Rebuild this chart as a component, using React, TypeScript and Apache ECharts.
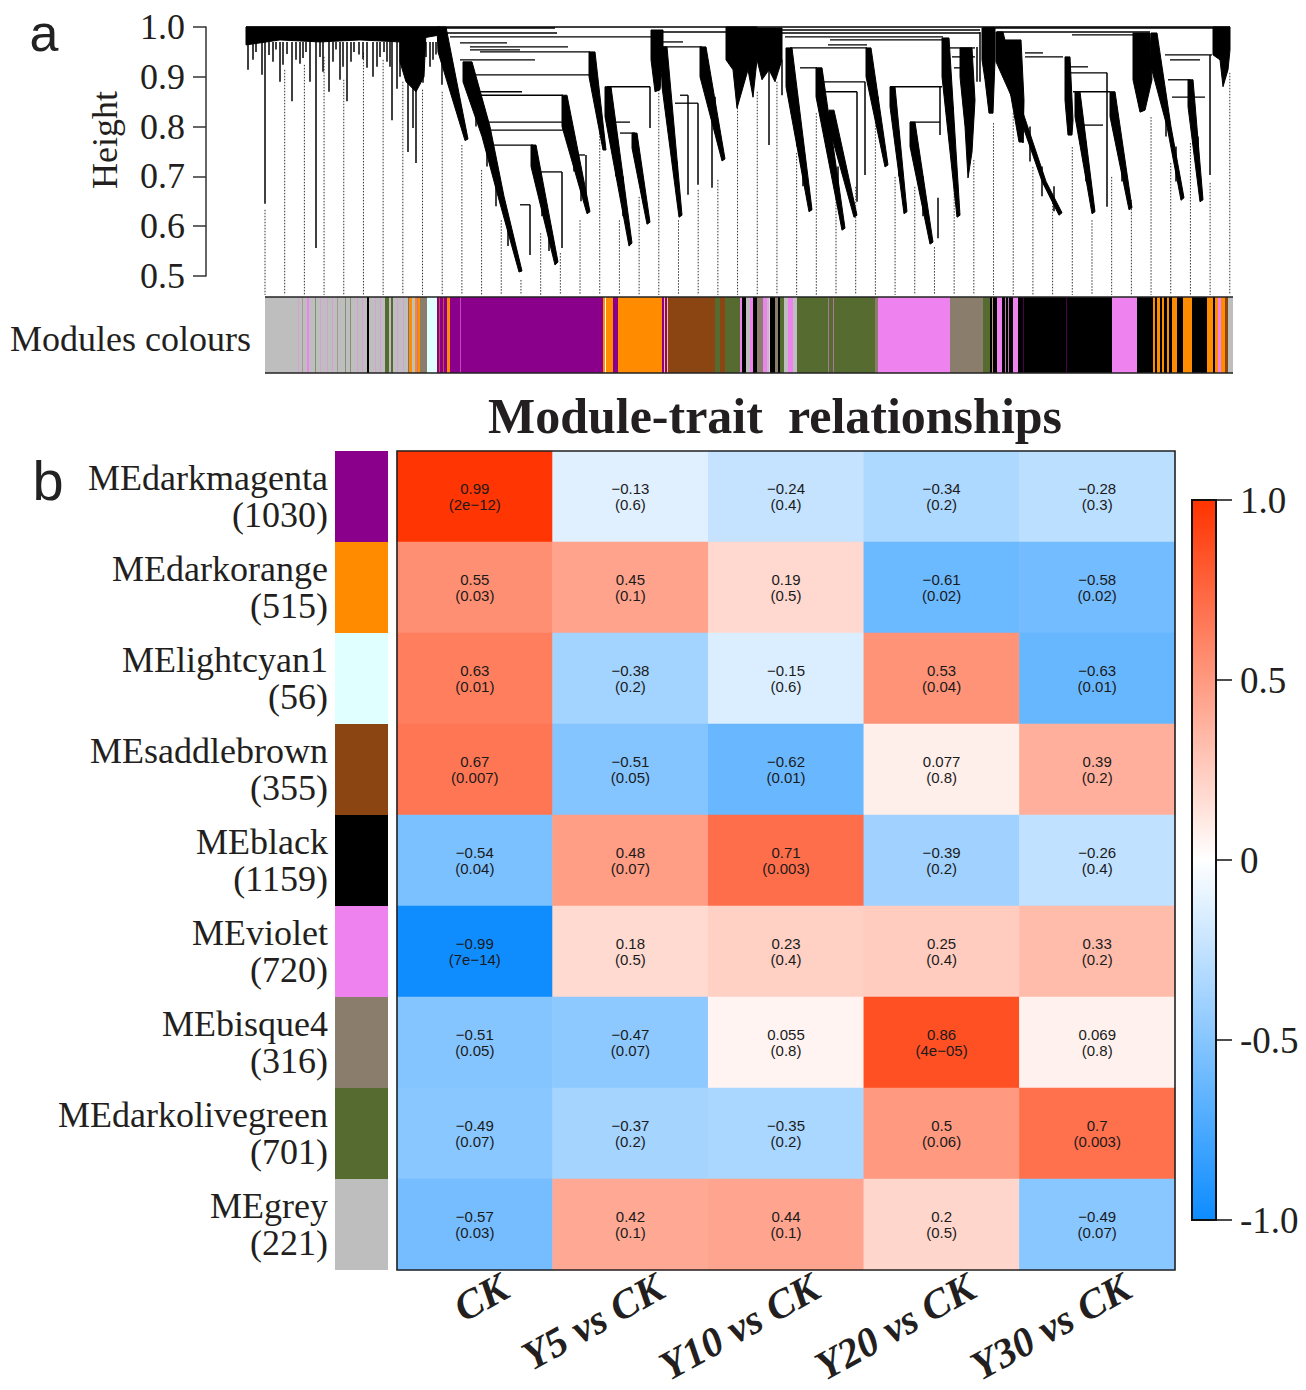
import React, { useEffect, useRef } from 'react';
import * as echarts from 'echarts';

// ---------------- Panel b data ----------------
const traits = ['CK', 'Y5 vs CK', 'Y10 vs CK', 'Y20 vs CK', 'Y30 vs CK'];
const modules = ['darkmagenta', 'darkorange', 'lightcyan1', 'saddlebrown', 'black', 'violet', 'bisque4', 'darkolivegreen', 'grey'];
const moduleSizes = [1030, 515, 56, 355, 1159, 720, 316, 701, 221];
const moduleColors: Record<string, string> = {
  darkmagenta: '#8B008B', darkorange: '#FF8C00', lightcyan1: '#E0FFFF', saddlebrown: '#8B4513',
  black: '#000000', violet: '#EE82EE', bisque4: '#8B7D6B', darkolivegreen: '#556B2F', grey: '#BEBEBE',
};
const corrDarkmagenta = [0.99, -0.13, -0.24, -0.34, -0.28];
const corrDarkorange = [0.55, 0.45, 0.19, -0.61, -0.58];
const corrLightcyan1 = [0.63, -0.38, -0.15, 0.53, -0.63];
const corrSaddlebrown = [0.67, -0.51, -0.62, 0.077, 0.39];
const corrBlack = [-0.54, 0.48, 0.71, -0.39, -0.26];
const corrViolet = [-0.99, 0.18, 0.23, 0.25, 0.33];
const corrBisque4 = [-0.51, -0.47, 0.055, 0.86, 0.069];
const corrDarkolivegreen = [-0.49, -0.37, -0.35, 0.5, 0.7];
const corrGrey = [-0.57, 0.42, 0.44, 0.2, -0.49];
const corr = [corrDarkmagenta, corrDarkorange, corrLightcyan1, corrSaddlebrown, corrBlack, corrViolet, corrBisque4, corrDarkolivegreen, corrGrey];

const pDarkmagenta = ['2e\u221212', '0.6', '0.4', '0.2', '0.3'];
const pDarkorange = ['0.03', '0.1', '0.5', '0.02', '0.02'];
const pLightcyan1 = ['0.01', '0.2', '0.6', '0.04', '0.01'];
const pSaddlebrown = ['0.007', '0.05', '0.01', '0.8', '0.2'];
const pBlack = ['0.04', '0.07', '0.003', '0.2', '0.4'];
const pViolet = ['7e\u221214', '0.5', '0.4', '0.4', '0.2'];
const pBisque4 = ['0.05', '0.07', '0.8', '4e\u221205', '0.8'];
const pDarkolivegreen = ['0.07', '0.2', '0.2', '0.06', '0.003'];
const pGrey = ['0.03', '0.1', '0.1', '0.5', '0.07'];
const pvals = [pDarkmagenta, pDarkorange, pLightcyan1, pSaddlebrown, pBlack, pViolet, pBisque4, pDarkolivegreen, pGrey];

const colorbarTicks = ['-1.0', '-0.5', '0', '0.5', '1.0'];

// ---------------- Panel a data (dendrogram, leaf position 0..984, height) ----------------
const dendroBars: number[][] = [
  [0, 984, 1.0],
  [194, 309, 0.998], [194, 311, 0.988], [204, 407, 0.98], [214, 261, 0.968], [224, 322, 0.96], [224, 274, 0.954],
  [234, 344, 0.95], [214, 289, 0.934], [224, 344, 0.904], [229, 276, 0.87], [234, 317, 0.863], [239, 317, 0.809],
  [239, 317, 0.793], [244, 287, 0.763], [274, 284, 0.643], [292, 316, 0.709], [329, 339, 0.743],
  [361, 404, 0.88], [369, 384, 0.809], [374, 389, 0.787],
  [411, 482, 0.99], [417, 437, 0.97], [417, 456, 0.96], [434, 442, 0.863], [429, 452, 0.847],
  [507, 734, 0.994], [534, 734, 0.988], [539, 697, 0.98], [584, 697, 0.974], [582, 621, 0.964], [544, 621, 0.958],
  [554, 571, 0.918], [576, 619, 0.89], [577, 611, 0.87],
  [644, 696, 0.88], [664, 694, 0.809],
  [704, 729, 0.958], [706, 729, 0.94], [708, 727, 0.918],
  [737, 969, 0.998], [751, 904, 0.99], [826, 904, 0.984],
  [779, 797, 0.948], [779, 817, 0.94],
  [819, 842, 0.92], [821, 861, 0.908], [827, 864, 0.87], [837, 857, 0.803],
  [919, 966, 0.944], [924, 954, 0.934], [922, 944, 0.894], [926, 959, 0.859],
];

const dendroSpikes: number[][] = [
  [2, 0.97, 0.914], [7, 0.97, 0.934], [10, 0.97, 0.95], [16, 0.97, 0.904], [19, 0.97, 0.645], [23, 0.97, 0.944],
  [27, 0.97, 0.93], [30, 0.97, 0.955], [34, 0.97, 0.89], [37, 0.97, 0.924], [41, 0.97, 0.946], [46, 0.97, 0.851],
  [50, 0.97, 0.934], [54, 0.97, 0.926], [57, 0.97, 0.938], [60, 0.97, 0.95], [64, 0.97, 0.89], [70, 0.97, 0.556],
  [74, 0.97, 0.94], [77, 0.97, 0.91], [83, 0.97, 0.87], [87, 0.97, 0.93], [90, 0.97, 0.955], [94, 0.97, 0.894],
  [97, 0.97, 0.92], [101, 0.97, 0.851], [105, 0.97, 0.93], [108, 0.97, 0.95], [113, 0.97, 0.945], [117, 0.97, 0.935],
  [121, 0.97, 0.918], [127, 0.97, 0.9], [131, 0.97, 0.92], [134, 0.97, 0.94], [138, 0.97, 0.95], [141, 0.97, 0.93],
  [144, 0.97, 0.92], [146, 0.97, 0.813], [151, 0.97, 0.876], [154, 0.97, 0.9], [157, 0.97, 0.92], [162, 0.97, 0.749],
  [167, 0.97, 0.797], [170, 0.97, 0.727], [174, 0.97, 0.89], [177, 0.97, 0.888], [180, 0.97, 0.94], [184, 0.97, 0.92],
  [187, 0.97, 0.934], [190, 0.97, 0.945], [196, 0.97, 0.884], [201, 0.97, 0.91],
  [284, 0.643, 0.542], [316, 0.709, 0.556], [340, 0.743, 0.643], [404, 0.88, 0.797], [442, 0.863, 0.663],
  [452, 0.847, 0.683], [466, 0.863, 0.677], [523, 0.914, 0.763], [536, 0.934, 0.863], [611, 0.87, 0.649],
  [619, 0.89, 0.703], [692, 0.657, 0.576], [694, 0.88, 0.783], [731, 0.96, 0.89], [734, 0.99, 0.89],
  [777, 0.85, 0.767], [861, 0.908, 0.639], [964, 0.944, 0.703],
  // small side tips along the main cascades
  [230, 0.86, 0.80], [241, 0.78, 0.72], [250, 0.70, 0.64], [262, 0.62, 0.56], [296, 0.68, 0.62], [303, 0.61, 0.55],
  [328, 0.78, 0.71], [335, 0.70, 0.65], [370, 0.78, 0.70], [377, 0.70, 0.62], [426, 0.82, 0.75], [431, 0.73, 0.66],
  [469, 0.86, 0.79], [551, 0.83, 0.76], [557, 0.75, 0.68], [585, 0.82, 0.74], [592, 0.72, 0.65], [632, 0.86, 0.79],
  [653, 0.79, 0.70], [677, 0.70, 0.62], [707, 0.84, 0.76], [784, 0.80, 0.73], [796, 0.72, 0.66], [808, 0.68, 0.63],
  [840, 0.77, 0.69], [876, 0.76, 0.69], [920, 0.85, 0.78], [930, 0.76, 0.69], [952, 0.78, 0.70],
];

const dendroMasses: number[][][] = [
  [[0, 1.0], [194, 1.0], [194, 0.984], [154, 0.97], [114, 0.974], [74, 0.97], [34, 0.974], [0, 0.964]],
  [[154, 0.99], [180, 0.99], [178, 0.9], [170, 0.87], [160, 0.89], [154, 0.93]],
  [[191, 1.0], [200, 1.0], [222, 0.775], [219, 0.772], [192, 0.95]],
  [[217, 0.93], [226, 0.93], [244, 0.8], [258, 0.66], [276, 0.51], [273, 0.508], [252, 0.66], [236, 0.78], [217, 0.89]],
  [[285, 0.763], [290, 0.763], [312, 0.528], [309, 0.522], [285, 0.72]],
  [[316, 0.863], [321, 0.863], [344, 0.629], [341, 0.625], [316, 0.8]],
  [[343, 0.95], [349, 0.95], [360, 0.753], [357, 0.753], [343, 0.9]],
  [[359, 0.88], [365, 0.88], [386, 0.566], [383, 0.56], [359, 0.82]],
  [[386, 0.787], [391, 0.787], [404, 0.608], [401, 0.604], [386, 0.757]],
  [[405, 0.994], [417, 0.994], [417, 0.934], [414, 0.874], [409, 0.87], [405, 0.934]],
  [[416, 0.96], [421, 0.96], [436, 0.622], [433, 0.618], [416, 0.88]],
  [[454, 0.96], [460, 0.96], [479, 0.735], [476, 0.731], [454, 0.9]],
  [[480, 1.0], [511, 1.0], [511, 0.934], [507, 0.859], [502, 0.914], [491, 0.837], [487, 0.914], [480, 0.934]],
  [[511, 0.998], [536, 0.998], [536, 0.934], [529, 0.89], [523, 0.914], [516, 0.894], [511, 0.934]],
  [[540, 0.958], [546, 0.958], [566, 0.633], [563, 0.629], [540, 0.88]],
  [[570, 0.918], [576, 0.918], [599, 0.596], [596, 0.592], [570, 0.86]],
  [[583, 0.833], [588, 0.833], [611, 0.622], [608, 0.618], [583, 0.8]],
  [[620, 0.958], [625, 0.958], [642, 0.723], [639, 0.719], [620, 0.9]],
  [[644, 0.88], [649, 0.88], [661, 0.629], [658, 0.625], [644, 0.84]],
  [[664, 0.809], [669, 0.809], [687, 0.568], [684, 0.564], [664, 0.76]],
  [[696, 0.978], [703, 0.978], [714, 0.622], [711, 0.618], [696, 0.9]],
  [[714, 0.958], [726, 0.958], [729, 0.853], [726, 0.749], [722, 0.697], [719, 0.8], [714, 0.9]],
  [[736, 0.998], [749, 0.998], [749, 0.934], [747, 0.827], [743, 0.827], [739, 0.894], [736, 0.934]],
  [[750, 0.99], [757, 0.99], [775, 0.84], [800, 0.69], [816, 0.627], [813, 0.622], [796, 0.69], [770, 0.84], [750, 0.93]],
  [[757, 0.974], [775, 0.974], [778, 0.853], [777, 0.769], [773, 0.769], [765, 0.86], [757, 0.934]],
  [[819, 0.94], [824, 0.94], [827, 0.813], [826, 0.783], [822, 0.783], [819, 0.853]],
  [[829, 0.87], [834, 0.87], [849, 0.629], [846, 0.625], [829, 0.82]],
  [[864, 0.87], [869, 0.87], [886, 0.637], [883, 0.633], [864, 0.82]],
  [[887, 0.988], [904, 0.988], [906, 0.894], [899, 0.833], [894, 0.829], [887, 0.894]],
  [[905, 0.988], [911, 0.988], [925, 0.8], [938, 0.657], [935, 0.652], [921, 0.8], [905, 0.92]],
  [[942, 0.894], [947, 0.894], [957, 0.653], [954, 0.649], [942, 0.84]],
  [[967, 1.0], [984, 1.0], [984, 0.954], [982, 0.914], [977, 0.88], [974, 0.934], [967, 0.944]],
];

// top of each of the 50 dotted guide lines (height)
const guideTops = [
  0.643, 0.924, 0.934, 0.95, 0.904, 0.958, 0.944, 0.9, 0.884, 0.88,
  0.773, 0.723, 0.622, 0.502, 0.596, 0.556, 0.622, 0.803, 0.622, 0.669,
  0.944, 0.622, 0.683, 0.703, 0.938, 0.88, 0.9, 0.757, 0.837, 0.689,
  0.689, 0.843, 0.709, 0.689, 0.568, 0.809, 0.743, 0.817, 0.837, 0.729,
  0.663, 0.769, 0.622, 0.709, 0.663, 0.829, 0.737, 0.777, 0.697, 0.918,
];
const guideBottom = 0.462;

// module colour strip: [start, end, module] along leaf order 0..968
const colourBlocks: [number, number, string][] = [
  [0, 102, 'grey'],
  [33, 34, 'violet'], [37, 38, 'bisque4'], [42, 44, 'violet'], [50, 51, 'darkolivegreen'], [55, 56, 'violet'],
  [62, 63, 'violet'], [67, 68, 'violet'], [72, 73, 'bisque4'], [80, 81, 'darkolivegreen'], [85, 86, 'darkolivegreen'],
  [92, 93, 'violet'], [97, 98, 'violet'],
  [102, 104, 'black'], [104, 143, 'grey'],
  [110, 111, 'violet'], [115, 116, 'violet'], [120, 124, 'darkolivegreen'], [126, 128, 'darkolivegreen'],
  [132, 133, 'violet'], [138, 139, 'violet'],
  [143, 144, 'black'], [144, 147, 'darkorange'], [147, 150, 'grey'], [150, 152, 'darkorange'], [152, 153, 'darkmagenta'],
  [153, 155, 'darkorange'], [155, 162, 'bisque4'],
  [162, 172, 'lightcyan1'],
  [172, 338, 'darkmagenta'],
  [174, 175, 'darkorange'], [178, 179, 'darkorange'], [182, 185, 'darkorange'], [195, 196, 'violet'],
  [338, 340, 'darkorange'], [341, 348, 'darkorange'], [348, 353, 'darkmagenta'],
  [353, 397, 'darkorange'],
  [397, 399, 'darkmagenta'], [399, 400, 'darkorange'], [400, 402, 'darkmagenta'], [402, 403, 'darkorange'],
  [403, 450, 'saddlebrown'],
  [450, 455, 'darkolivegreen'], [455, 460, 'saddlebrown'], [460, 475, 'darkolivegreen'],
  [475, 477, 'violet'], [477, 481, 'black'], [481, 485, 'grey'], [485, 488, 'violet'], [488, 492, 'black'],
  [492, 498, 'bisque4'], [498, 502, 'violet'], [502, 504, 'grey'], [504, 505, 'violet'], [505, 510, 'black'],
  [510, 513, 'bisque4'], [513, 515, 'black'], [515, 519, 'darkolivegreen'], [519, 523, 'grey'], [523, 528, 'violet'],
  [528, 532, 'grey'],
  [532, 610, 'darkolivegreen'], [563, 564, 'violet'], [568, 569, 'violet'],
  [610, 613, 'bisque4'],
  [613, 685, 'violet'],
  [685, 718, 'bisque4'],
  [718, 725, 'darkolivegreen'],
  [725, 727, 'black'], [727, 728, 'saddlebrown'], [728, 732, 'black'],
  [732, 737, 'violet'],
  [737, 740, 'black'], [740, 741, 'darkmagenta'], [741, 743, 'black'], [743, 744, 'darkmagenta'], [744, 748, 'black'],
  [748, 753, 'violet'],
  [753, 847, 'black'], [758, 759, 'darkmagenta'], [801, 802, 'darkmagenta'],
  [847, 872, 'violet'],
  [872, 888, 'black'],
  [888, 890, 'darkorange'], [890, 892, 'black'], [892, 895, 'darkorange'], [895, 897, 'black'], [897, 899, 'darkorange'],
  [899, 902, 'black'], [902, 904, 'darkorange'], [904, 907, 'black'], [907, 912, 'darkorange'], [912, 918, 'black'],
  [918, 927, 'darkorange'],
  [927, 942, 'black'],
  [942, 948, 'darkorange'],
  [948, 950, 'black'], [950, 953, 'darkorange'], [953, 956, 'violet'], [956, 960, 'darkorange'], [960, 963, 'saddlebrown'],
  [963, 968, 'grey'],
];

// ---------------- layout ----------------
const SERIF = '"Liberation Serif", "Times New Roman", serif';
const SANS = '"Liberation Sans", Arial, sans-serif';
const INK = '#231f20';
const HM = { left: 397, top: 451, width: 778, height: 819 };
const DG = { left: 206, top: 27, width: 1024, height: 249 };
const CB = { left: 265, top: 297, width: 968, height: 76 };
const LEAF_MIN = -40;
const LEAF_MAX = 984;
const STRIP_MAX = 968;
const GUIDE_START = 19;
const GUIDE_STEP = 19.69;
const XLABEL_DX = 30;
const XLABEL_Y = 1284;
const XLABEL_ROT = (29 * Math.PI) / 180;

const fmtR = (v: number) => (v < 0 ? '\u2212' : '') + String(Math.abs(v));

const baseGraphics = [
  { type: 'text', x: 44, y: 33, z: 50, style: { text: 'a', fontSize: 52, fontFamily: SANS, fill: '#222', align: 'center', verticalAlign: 'middle' } },
  { type: 'text', x: 48, y: 480, z: 50, style: { text: 'b', fontSize: 56, fontFamily: SANS, fill: '#222', align: 'center', verticalAlign: 'middle' } },
  { type: 'text', x: 105, y: 140, rotation: Math.PI / 2, z: 50, style: { text: 'Height', fontSize: 36, fontFamily: SERIF, fill: INK, align: 'center', verticalAlign: 'middle' } },
  { type: 'text', x: 10, y: 339, z: 50, style: { text: 'Modules colours', fontSize: 36, fontFamily: SERIF, fill: INK, align: 'left', verticalAlign: 'middle' } },
  { type: 'text', x: 775, y: 416, z: 50, style: { text: 'Module-trait  relationships', fontSize: 50, fontWeight: 'bold', fontFamily: SERIF, fill: INK, align: 'center', verticalAlign: 'middle' } },
  { type: 'rect', z: 60, silent: true, shape: { x: HM.left, y: HM.top, width: HM.width, height: HM.height }, style: { fill: 'none', stroke: '#222', lineWidth: 1.6 } },
  { type: 'rect', z: 60, silent: true, shape: { x: 1192, y: 500, width: 24, height: 720 }, style: { fill: 'none', stroke: '#111', lineWidth: 2 } },
  { type: 'line', z: 60, silent: true, shape: { x1: CB.left, y1: CB.top, x2: CB.left + CB.width, y2: CB.top }, style: { stroke: '#222', lineWidth: 1.5 } },
  { type: 'line', z: 60, silent: true, shape: { x1: CB.left, y1: CB.top + CB.height, x2: CB.left + CB.width, y2: CB.top + CB.height }, style: { stroke: '#222', lineWidth: 1.5 } },
];

function buildOption() {
  const heatData: number[][] = [];
  corr.forEach((row, r) => row.forEach((v, c) => heatData.push([c, r, v])));

  const hidden = { show: false };

  return {
    animation: false,
    backgroundColor: '#ffffff',
    grid: [
      { ...HM },
      { left: 335, top: HM.top, width: 53, height: HM.height },
      { left: 1192, top: 500, width: 24, height: 720 },
      { ...DG },
      { ...CB },
    ],
    xAxis: [
      { type: 'category', gridIndex: 0, data: traits, show: false },
      { type: 'category', gridIndex: 1, data: ['m'], show: false },
      { type: 'value', gridIndex: 2, min: 0, max: 1, show: false },
      { type: 'value', gridIndex: 3, min: LEAF_MIN, max: LEAF_MAX, show: false },
      { type: 'value', gridIndex: 4, min: 0, max: STRIP_MAX, show: false },
    ],
    yAxis: [
      { type: 'category', gridIndex: 0, data: modules, inverse: true, show: false },
      {
        type: 'category', gridIndex: 1, data: modules, inverse: true,
        axisLine: hidden, axisTick: hidden, splitLine: hidden,
        axisLabel: {
          margin: 7, fontSize: 36, lineHeight: 37, fontFamily: SERIF, color: INK, align: 'right',
          padding: [5, 0, 0, 0],
          formatter: (v: string, i: number) => `ME${v}\n(${moduleSizes[i]})`,
        },
      },
      {
        type: 'value', gridIndex: 2, min: -1, max: 1, interval: 0.5, position: 'right',
        splitLine: hidden,
        axisLine: { show: false, onZero: false },
        axisTick: { show: true, length: 16, lineStyle: { color: '#111', width: 1.5 } },
        axisLabel: {
          margin: 24, fontSize: 37, fontFamily: SERIF, color: INK,
          formatter: (_v: number, i: number) => colorbarTicks[i],
        },
      },
      {
        type: 'value', gridIndex: 3, min: 0.5, max: 1.0, interval: 0.1, position: 'left',
        splitLine: hidden,
        axisLine: { show: true, onZero: false, lineStyle: { color: '#333', width: 1.5 } },
        axisTick: { show: true, length: 13, lineStyle: { color: '#333', width: 1.5 } },
        axisLabel: {
          margin: 21, fontSize: 36, fontFamily: SERIF, color: INK,
          formatter: (v: number) => v.toFixed(1),
        },
      },
      { type: 'value', gridIndex: 4, min: 0, max: 1, show: false },
    ],
    visualMap: {
      type: 'continuous', seriesIndex: 0, dimension: 2, min: -1, max: 1,
      inRange: { color: ['#0D8CFF', '#FFFFFF', '#FF3300'] },
      orient: 'vertical', left: 1192, top: 500, itemWidth: 24, itemHeight: 720,
      padding: 0, calculable: false, show: true, hoverLink: false,
    },
    series: [
      {
        type: 'heatmap', xAxisIndex: 0, yAxisIndex: 0, data: heatData,
        itemStyle: { borderWidth: 0 },
        emphasis: { disabled: true },
        label: {
          show: true, fontSize: 15, lineHeight: 16, fontFamily: SANS, color: '#1a1a1a',
          formatter: (p: any) => `${fmtR(p.value[2])}\n(${pvals[p.value[1]][p.value[0]]})`,
        },
      },
      {
        type: 'custom', xAxisIndex: 1, yAxisIndex: 1, silent: true,
        data: modules.map((_m, i) => [0, i]),
        renderItem: (_params: any, api: any) => {
          const i = api.value(1);
          const c = api.coord([0, i]);
          const s = api.size([1, 1]);
          return {
            type: 'rect',
            shape: { x: c[0] - s[0] / 2, y: c[1] - s[1] / 2, width: s[0], height: s[1] },
            style: { fill: moduleColors[modules[i]] },
          };
        },
      },
      {
        // dotted guide lines
        type: 'custom', xAxisIndex: 3, yAxisIndex: 3, silent: true, clip: false,
        data: guideTops.map((h, k) => [k, h]),
        renderItem: (_params: any, api: any) => {
          const k = api.value(0);
          const h = api.value(1);
          const p = GUIDE_START + k * GUIDE_STEP;
          const a = api.coord([p, h - 0.01]);
          const b = api.coord([p, guideBottom]);
          return {
            type: 'line', shape: { x1: a[0], y1: a[1], x2: b[0], y2: b[1] },
            style: { stroke: '#333', lineWidth: 1, lineDash: [1.5, 1.5] },
          };
        },
      },
      {
        // dense dendrogram branches
        type: 'custom', xAxisIndex: 3, yAxisIndex: 3, silent: true, clip: false,
        data: dendroMasses.map((_m, i) => [i, 0.75]),
        renderItem: (_params: any, api: any) => {
          const i = api.value(0);
          const pts = dendroMasses[i].map((pt) => api.coord(pt));
          return {
            type: 'polygon', shape: { points: pts },
            style: { fill: '#000', stroke: '#000', lineWidth: 1 },
          };
        },
      },
      {
        // single branch tips
        type: 'custom', xAxisIndex: 3, yAxisIndex: 3, silent: true, clip: false,
        data: dendroSpikes,
        renderItem: (_params: any, api: any) => {
          const a = api.coord([api.value(0), api.value(1)]);
          const b = api.coord([api.value(0), api.value(2)]);
          return {
            type: 'line', shape: { x1: a[0], y1: a[1], x2: b[0], y2: b[1] },
            style: { stroke: '#000', lineWidth: 1.5 },
          };
        },
      },
      {
        // merge bars
        type: 'custom', xAxisIndex: 3, yAxisIndex: 3, silent: true, clip: false,
        data: dendroBars,
        renderItem: (_params: any, api: any) => {
          const a = api.coord([api.value(0), api.value(2)]);
          const b = api.coord([api.value(1), api.value(2)]);
          return {
            type: 'line', shape: { x1: a[0], y1: a[1], x2: b[0], y2: b[1] },
            style: { stroke: '#000', lineWidth: 1.3 },
          };
        },
      },
      {
        // module colour strip
        type: 'custom', xAxisIndex: 4, yAxisIndex: 4, silent: true,
        data: colourBlocks.map((b, i) => [b[0], b[1], i]),
        renderItem: (_params: any, api: any) => {
          const i = api.value(2);
          const blk = colourBlocks[i];
          const a = api.coord([blk[0], 1]);
          const b = api.coord([blk[1], 0]);
          const thin = blk[1] - blk[0] <= 1;
          return {
            type: 'rect',
            shape: { x: a[0], y: a[1], width: Math.max(b[0] - a[0], 1), height: b[1] - a[1] },
            style: { fill: moduleColors[blk[2]], opacity: thin ? 0.55 : 1 },
          };
        },
      },
    ],
    graphic: { elements: baseGraphics },
  };
}

export default function App() {
  const ref = useRef<HTMLDivElement>(null);
  useEffect(() => {
    const chart = echarts.init(ref.current as HTMLDivElement, null, { renderer: 'svg' });
    chart.setOption(buildOption() as any);
    // rotated trait labels under the heatmap, placed at the category axis positions
    const labelEls = traits.map((t, i) => {
      let cx = chart.convertToPixel({ xAxisIndex: 0 } as any, t as any) as any;
      if (typeof cx !== 'number' || !isFinite(cx)) cx = HM.left + ((i + 0.5) * HM.width) / traits.length;
      return {
        type: 'text', x: cx + XLABEL_DX, y: XLABEL_Y, rotation: XLABEL_ROT, z: 50,
        style: {
          text: t, fontSize: 41, lineHeight: 30, fontWeight: 'bold', fontStyle: 'italic', fontFamily: SERIF,
          fill: INK, align: 'right', verticalAlign: 'middle',
        },
      };
    });
    chart.setOption({ graphic: { elements: [...baseGraphics, ...labelEls] } } as any);
    return () => chart.dispose();
  }, []);
  return (
    <div
      ref={ref}
      style={{ position: 'absolute', left: 0, top: 0, width: 1306, height: 1390, background: '#ffffff' }}
    />
  );
}
